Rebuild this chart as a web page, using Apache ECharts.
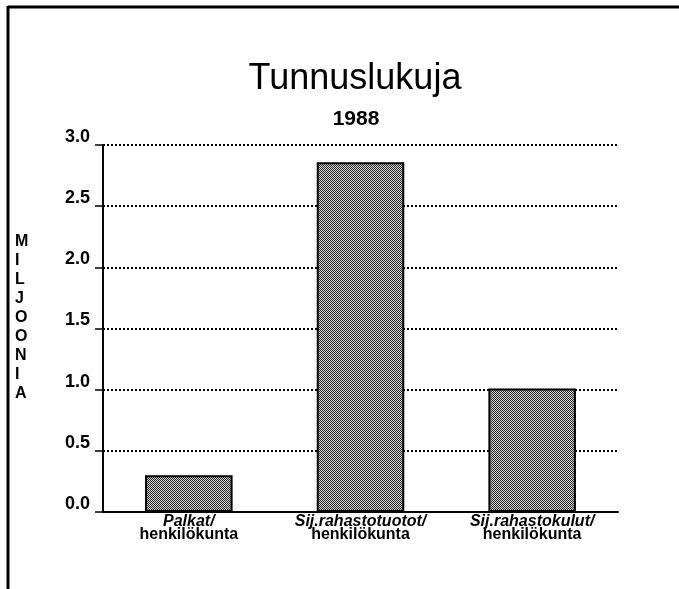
<!DOCTYPE html>
<html><head><meta charset="utf-8">
<script src="https://cdn.jsdelivr.net/npm/echarts@6/dist/echarts.min.js"></script>
<style>html,body{margin:0;padding:0;background:#fff}#c{width:679px;height:589px}</style>
</head><body><div id="c"></div>
<script>
var titleText = 'Tunnuslukuja';
var subtitleText = '1988';
var yAxisName = 'MILJOONIA';
var categoriesTop = ['Palkat/', 'Sij.rahastotuotot/', 'Sij.rahastokulut/'];
var categoriesBottom = ['henkilökunta', 'henkilökunta', 'henkilökunta'];
var values = [0.30, 2.86, 1.01];
var yTicks = [0, 0.5, 1.0, 1.5, 2.0, 2.5, 3.0];

// dithered grey pattern
var pc = document.createElement('canvas');
pc.width = 2; pc.height = 2;
var px = pc.getContext('2d');
px.fillStyle = '#d8d8d8'; px.fillRect(0,0,2,2);
px.fillStyle = '#262626';
px.fillRect(0,0,1,1); px.fillRect(1,1,1,1);

var categories = categoriesTop.map(function(t,i){ return t + '\n' + categoriesBottom[i]; });

var chart = echarts.init(document.getElementById('c'), null, {renderer:'canvas'});
chart.setOption({
  backgroundColor: '#fff',
  animation: false,
  title: [
    {text: titleText, left: 350, top: 56, textAlign: 'center',
     textStyle: {fontFamily: 'Liberation Sans, Arial', fontWeight: 'normal', fontSize: 36, color: '#000'}},
    {text: subtitleText, left: 351, top: 104, textAlign: 'center',
     textStyle: {fontFamily: 'Liberation Sans, Arial', fontWeight: 'bold', fontSize: 21, color: '#000'}}
  ],
  grid: {left: 103, right: 61, top: 145, bottom: 77},
  xAxis: {
    type: 'category',
    data: categories,
    axisLine: {lineStyle: {color: '#000', width: 2}},
    axisTick: {show: false},
    axisLabel: {
      margin: 3,
      interval: 0,
      formatter: function(v){ var p = v.split('\n'); return '{i|' + p[0] + '}\n{n|' + p[1] + '}'; },
      rich: {
        i: {fontFamily: 'Liberation Sans, Arial', fontWeight: 'bold', fontStyle: 'italic', fontSize: 16, color: '#000', lineHeight: 13},
        n: {fontFamily: 'Liberation Sans, Arial', fontWeight: 'bold', fontSize: 16, color: '#000', lineHeight: 14}
      }
    }
  },
  yAxis: {
    type: 'value',
    min: yTicks[0], max: yTicks[yTicks.length-1], interval: 0.5,
    axisLine: {show: true, lineStyle: {color: '#000', width: 2}},
    axisTick: {show: true, length: 8, lineStyle: {color: '#000', width: 1.5}},
    axisLabel: {
      margin: 13,
      verticalAlign: 'bottom',
      lineHeight: 16,
      formatter: function(v){ return v.toFixed(1); },
      fontFamily: 'Liberation Sans, Arial', fontWeight: 'bold', fontSize: 18, color: '#000'
    },
    splitLine: {show: true, lineStyle: {color: '#000', width: 2, type: [2, 2]}}
  },
  series: [{
    type: 'bar',
    data: values,
    barWidth: '51%',
    itemStyle: {color: {image: pc, repeat: 'repeat'}, borderColor: '#000', borderWidth: 2}
  }],
  graphic: [
    {type: 'text', left: 15, top: 232,
     style: {text: yAxisName.split('').join('\n'), fontFamily: 'Liberation Sans, Arial', fontWeight: 'bold', fontSize: 16, lineHeight: 19, fill: '#000', align: 'center'}},
    {type: 'line', shape: {x1: 8, y1: 7, x2: 679, y2: 7}, style: {stroke: '#000', lineWidth: 3}},
    {type: 'line', shape: {x1: 8, y1: 6, x2: 8, y2: 589}, style: {stroke: '#000', lineWidth: 3}}
  ]
});
</script>
</body></html>
